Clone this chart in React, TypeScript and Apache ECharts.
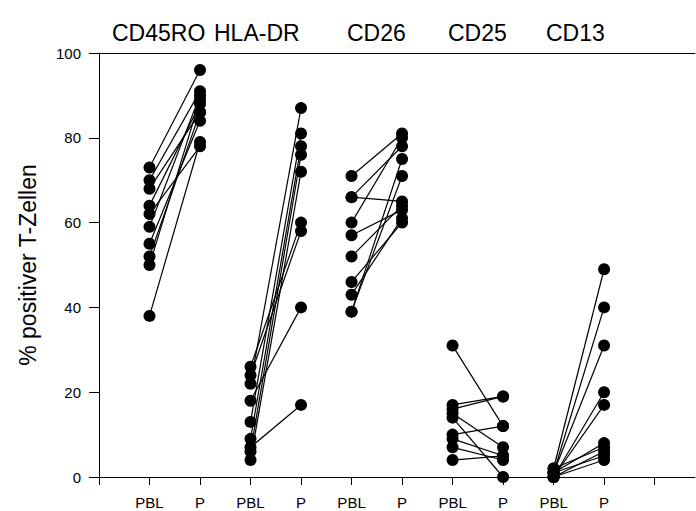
import React, { useEffect, useRef } from 'react';
import * as echarts from 'echarts';

const markers = ['CD45RO', 'HLA-DR', 'CD26', 'CD25', 'CD13'];
const sampleLabels = ['PBL', 'P'];
const xTickValues = [0, 1, 2, 3, 4, 5, 6, 7, 8, 9, 10, 11];
const xLabelValues = [1, 2, 3, 4, 5, 6, 7, 8, 9, 10];

const cd45roPBL = [73, 70, 68, 64, 62, 59, 55, 52, 50, 38];
const cd45roP = [96, 91, 86, 88, 78, 90, 84, 86, 89, 79];
const hladrPBL = [26, 24, 22, 18, 13, 9, 7, 6, 4];
const hladrP = [60, 58, 87, 40, 81, 78, 17, 76, 72];
const cd26PBL = [71, 66, 66, 60, 57, 52, 46, 43, 39, 39];
const cd26P = [81, 65, 78, 80, 63, 64, 60, 61, 71, 75];
const cd25PBL = [31, 17, 16, 15, 14, 10, 9, 7, 4];
const cd25P = [12, 19, 19, 7, 0, 12, 5, 4, 5];
const cd13PBL = [2, 1, 1, 0, 0, 1, 2, 0, 1, 0];
const cd13P = [49, 40, 31, 20, 17, 8, 7, 6, 5, 4];

const groups = [
  { pbl: cd45roPBL, p: cd45roP },
  { pbl: hladrPBL, p: hladrP },
  { pbl: cd26PBL, p: cd26P },
  { pbl: cd25PBL, p: cd25P },
  { pbl: cd13PBL, p: cd13P },
];

const FONT = 'Liberation Sans, Arial, Helvetica, sans-serif';

export default function App() {
  const ref = useRef<HTMLDivElement>(null);
  useEffect(() => {
    if (!ref.current) return;
    const chart = echarts.init(ref.current, undefined, { renderer: 'svg' });
    const series: any[] = [];
    groups.forEach((g, gi) => {
      g.pbl.forEach((v, i) => {
        series.push({
          type: 'line',
          silent: true,
          xAxisIndex: 0,
          yAxisIndex: 0,
          data: [
            [gi * 2 + 1, v],
            [gi * 2 + 2, g.p[i]],
          ],
          symbol: 'circle',
          symbolSize: 12,
          showSymbol: true,
          lineStyle: { color: '#000', width: 1.2 },
          itemStyle: { color: '#000', borderWidth: 0 },
        });
      });
    });
    const titleLefts = [112, 214, 347, 448, 546];
    chart.setOption({
      animation: false,
      grid: { left: 99, right: 1, top: 53, bottom: 34, containLabel: false },
      xAxis: [
        {
          type: 'value',
          min: 0,
          max: 11.8,
          interval: 1,
          axisLine: { show: true, lineStyle: { color: '#000', width: 1 } },
          axisTick: {
            show: true,
            length: 8,
            customValues: xTickValues,
            lineStyle: { color: '#000' },
          },
          axisLabel: {
            show: true,
            customValues: xLabelValues,
            formatter: (v: number) => sampleLabels[(Math.round(v) - 1) % 2],
            color: '#000',
            fontSize: 15,
            fontFamily: FONT,
            margin: 18,
          },
          splitLine: { show: false },
        },
        {
          type: 'value',
          position: 'top',
          min: 0,
          max: 11.8,
          axisLine: { show: true, onZero: false, lineStyle: { color: '#000', width: 1 } },
          axisTick: { show: false },
          axisLabel: { show: false },
          splitLine: { show: false },
        },
      ],
      yAxis: {
        type: 'value',
        min: 0,
        max: 100,
        interval: 20,
        axisLine: { show: true, lineStyle: { color: '#000', width: 1 } },
        axisTick: { show: true, length: 10, lineStyle: { color: '#000' } },
        axisLabel: { color: '#000', fontSize: 15, fontFamily: FONT, margin: 18 },
        splitLine: { show: false },
        name: '% positiver T-Zellen',
        nameLocation: 'middle',
        nameGap: 60,
        nameRotate: 90,
        nameTextStyle: { color: '#000', fontSize: 23, fontFamily: FONT },
      },
      graphic: markers.map((m, i) => ({
        type: 'text',
        x: titleLefts[i],
        y: 33,
        style: {
          text: m,
          fill: '#000',
          fontSize: 23,
          fontFamily: FONT,
          align: 'left',
          verticalAlign: 'middle',
        },
      })),
      series,
    });
    return () => chart.dispose();
  }, []);
  return (
    <div
      ref={ref}
      style={{ position: 'fixed', left: 0, top: 0, width: 696, height: 511, background: '#fff' }}
    />
  );
}
